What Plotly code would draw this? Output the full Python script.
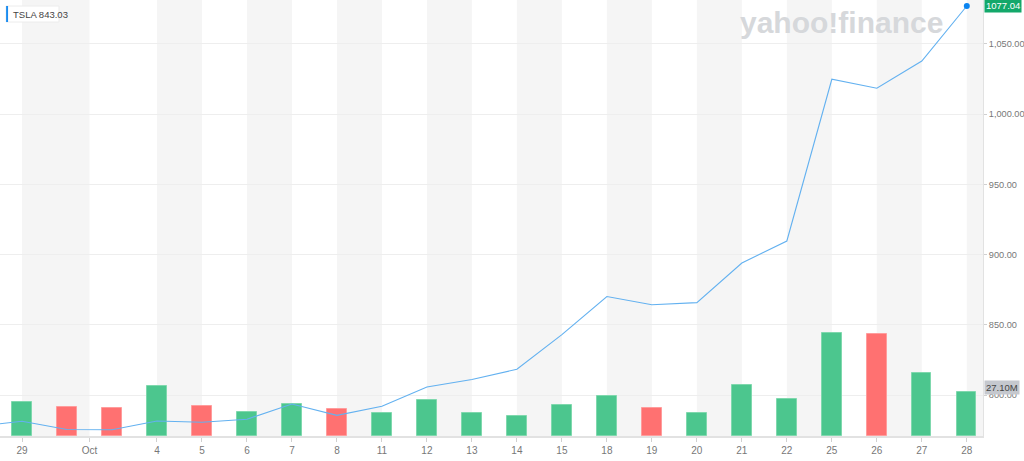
import plotly.graph_objects as go

# ---- data ----
dates = ["Sep 28", "Sep 29", "Sep 30", "Oct 1", "Oct 4", "Oct 5", "Oct 6", "Oct 7", "Oct 8",
         "Oct 11", "Oct 12", "Oct 13", "Oct 14", "Oct 15", "Oct 18", "Oct 19", "Oct 20",
         "Oct 21", "Oct 22", "Oct 25", "Oct 26", "Oct 27", "Oct 28"]
close = [777.56, 781.31, 775.48, 775.22, 781.53, 780.59, 782.75, 793.61, 785.49,
         791.94, 805.72, 811.08, 818.32, 843.03, 870.11, 864.27, 865.80,
         894.00, 909.68, 1024.86, 1018.43, 1037.86, 1077.04]
# volume in millions for Sep 29 .. Oct 28
volume_m = [21.0, 17.9, 17.1, 30.9, 18.7, 14.6, 19.6, 16.7, 14.2, 22.2, 14.2, 12.3,
            19.1, 24.5, 17.5, 14.0, 31.5, 22.8, 63.6, 63.0, 38.9, 27.1]
tick_pos = [0, 1.5, 3, 4, 5, 6, 7, 8, 9, 10, 11, 12, 13, 14, 15, 16, 17, 18, 19, 20, 21]
tick_text = ["29", "Oct", "4", "5", "6", "7", "8", "11", "12", "13", "14", "15", "18",
             "19", "20", "21", "22", "25", "26", "27", "28"]
price_ticks = [800, 850, 900, 950, 1000, 1050]
symbol = "TSLA"
ref_price = 843.03

GREEN = "#4cc68e"
RED = "#ff7171"
LINE = "#63b1f0"

xi_price = list(range(-1, len(dates) - 1))
xi_vol = list(range(len(volume_m)))
bar_colors = [GREEN if close[i + 1] >= close[i] else RED for i in range(len(volume_m))]
bar_lines = ["#7fd8ad" if c == GREEN else "#ff9c9c" for c in bar_colors]

fig = go.Figure()
fig.add_trace(go.Bar(x=xi_vol, y=[v * 1e6 for v in volume_m], marker_color=bar_colors,
                     marker_line_color=bar_lines, marker_line_width=1, width=0.43,
                     yaxis="y", hoverinfo="skip"))
fig.add_trace(go.Scatter(x=xi_price, y=close, mode="lines", line=dict(color=LINE, width=1.1),
                         yaxis="y2", hoverinfo="skip"))
fig.add_trace(go.Scatter(x=[xi_price[-1]], y=[close[-1]], mode="markers",
                         marker=dict(color="#0a84f0", size=6), yaxis="y2", hoverinfo="skip"))

x_left, x_right = -0.489, 21.36
shapes = []
bounds = tick_pos + [x_right]
for k in range(0, len(bounds) - 1, 2):
    shapes.append(dict(type="rect", xref="x", yref="paper", x0=bounds[k], x1=bounds[k + 1],
                       y0=0, y1=1, fillcolor="#f5f5f5", line_width=0, layer="below"))

# top-left label box
shapes.append(dict(type="rect", xref="paper", yref="paper", x0=0.0062, x1=0.060,
                   y0=1 - 22 / 436, y1=1 - 6 / 436, fillcolor="white",
                   line=dict(color="#ececec", width=1), layer="above"))
shapes.append(dict(type="rect", xref="paper", yref="paper", x0=0.0062, x1=0.0082,
                   y0=1 - 22 / 436, y1=1 - 6 / 436, fillcolor="#1a8cf0",
                   line_width=0, layer="above"))

annotations = [
    dict(text="yahoo<b>!</b>finance", xref="paper", yref="paper", x=0.856, y=1 - 22 / 436,
         xanchor="center", yanchor="middle", showarrow=False,
         font=dict(family="Liberation Sans", size=30, color="#d6d8db", weight="bold")),
    dict(text=f"{symbol} {ref_price:.2f}", xref="paper", yref="paper", x=0.0115, y=1 - 14 / 436,
         xanchor="left", yanchor="middle", showarrow=False,
         font=dict(family="Liberation Sans", size=9.5, color="#444444")),
    dict(text=f"{close[-1]:.2f}", xref="paper", yref="y2", x=1.0, y=close[-1], xanchor="left",
         yanchor="middle", showarrow=False, bgcolor="#13a86a", borderpad=1, xshift=1,
         font=dict(family="Liberation Sans", size=9.5, color="white")),
    dict(text=f"{volume_m[-1]:.2f}M", xref="paper", yref="y", x=1.0, y=volume_m[-1] * 1e6,
         yshift=4, xanchor="left", yanchor="middle", showarrow=False, bgcolor="#c5c8ce",
         borderpad=1, xshift=1, font=dict(family="Liberation Sans", size=9.5, color="#444444")),
]

fig.update_layout(
    width=1024, height=461,
    margin=dict(l=0, r=41, t=0, b=25, autoexpand=False),
    paper_bgcolor="white", plot_bgcolor="white",
    showlegend=False, bargap=0,
    shapes=shapes, annotations=annotations,
    xaxis=dict(range=[x_left, x_right], tickvals=tick_pos, ticktext=tick_text, automargin=False,
               showgrid=False, zeroline=False, showline=True, linecolor="#e2e2e2", linewidth=2,
               ticks="outside", ticklen=4, tickcolor="#d0d0d0",
               tickfont=dict(family="Liberation Sans", size=10, color="#777777")),
    yaxis=dict(range=[0, 268.5e6], visible=False, showgrid=False, fixedrange=True,
               automargin=False),
    yaxis2=dict(range=[770.8, 1081.3], overlaying="y", side="right", tickvals=price_ticks,
                tickformat=",.2f", showgrid=True, gridcolor="#eeeeee", zeroline=False,
                automargin=False, showline=True, linecolor="#e2e2e2", linewidth=1,
                ticks="outside", ticklen=3, tickcolor="#d0d0d0",
                tickfont=dict(family="Liberation Sans", size=9.2, color="#777777")),
)

fig.write_html("out.html")
